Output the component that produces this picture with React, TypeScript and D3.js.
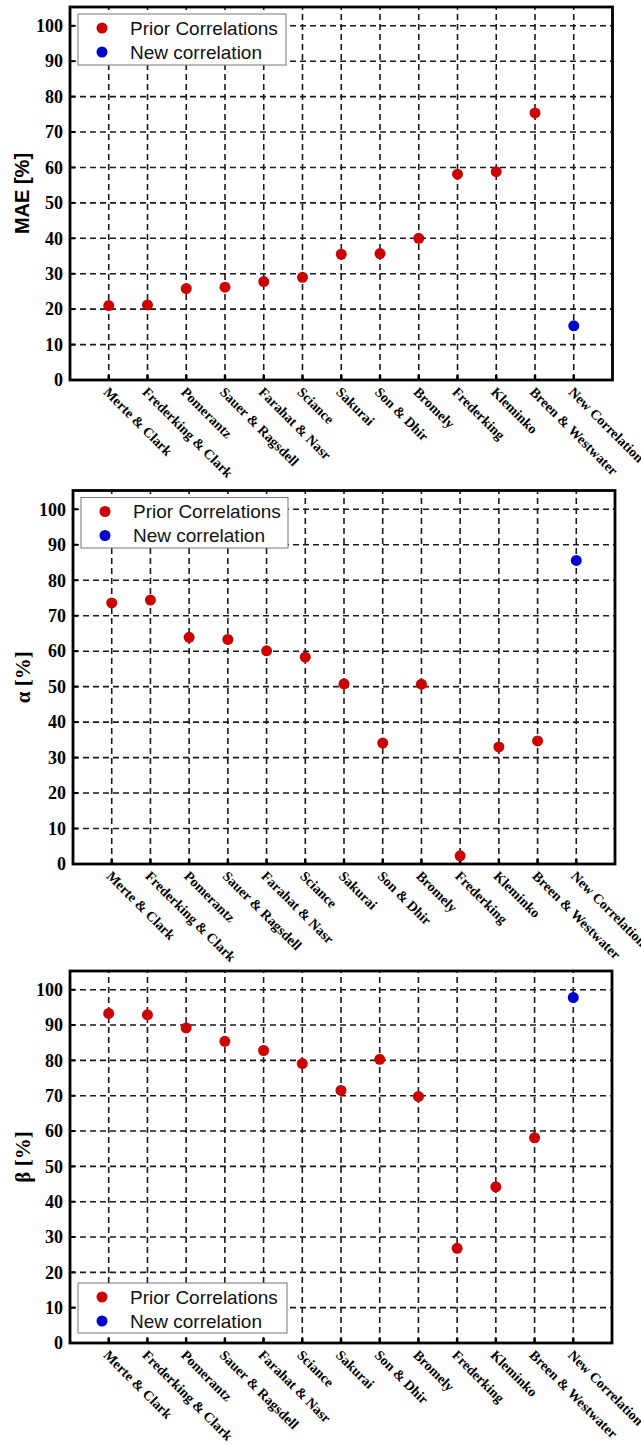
import React, { useEffect, useRef } from 'react';
import * as d3 from 'd3';

const categories = [
  'Merte & Clark', 'Frederking & Clark', 'Pomerantz', 'Sauer & Ragsdell', 'Farahat & Nasr',
  'Sciance', 'Sakurai', 'Son & Dhir', 'Bromely', 'Frederking', 'Kleminko',
  'Breen & Westwater', 'New Correlation',
];
const maeValues = [21.0, 21.2, 25.8, 26.2, 27.8, 29.0, 35.5, 35.7, 40.0, 58.1, 58.8, 75.4, 15.3];
const alphaValues = [73.6, 74.4, 63.9, 63.3, 60.1, 58.3, 50.8, 34.1, 50.7, 2.3, 33.0, 34.7, 85.6];
const betaValues = [93.3, 92.9, 89.2, 85.4, 82.8, 79.1, 71.5, 80.3, 69.8, 26.8, 44.2, 58.1, 97.8];
const yTicks = [0, 10, 20, 30, 40, 50, 60, 70, 80, 90, 100];
const legendLabels = ['Prior Correlations', 'New correlation'];

const RED = '#cc0000';
const BLUE = '#0000cc';

const panels = [
  { title: 'MAE [%]', titleFont: 'Arial, "Liberation Sans", sans-serif', titleSize: 20, titleX: 29,
    values: maeValues, left: 70, right: 612.5, top: 7, bottom: 380, legend: { x: 78, y: 14, w: 208, h: 51 } },
  { title: 'α [%]', titleFont: '"Times New Roman", "Liberation Serif", serif', titleSize: 21, titleX: 30,
    values: alphaValues, left: 73, right: 615, top: 490.5, bottom: 864, legend: { x: 81, y: 497.5, w: 207, h: 50.5 } },
  { title: 'β [%]', titleFont: '"Times New Roman", "Liberation Serif", serif', titleSize: 21, titleX: 30,
    values: betaValues, left: 70, right: 612, top: 971, bottom: 1343, legend: { x: 78, y: 1283, w: 209, h: 50 } },
];

const App = () => {
  const ref = useRef(null);

  useEffect(() => {
    const svg = d3.select(ref.current);
    svg.selectAll('*').remove();

    panels.forEach(p => {
      const x = d3.scalePoint().domain(categories).range([p.left, p.right]).padding(1);
      const y = d3.scaleLinear().domain([0, 105.3]).range([p.bottom, p.top]);
      const g = svg.append('g');

      // dashed grid
      g.selectAll('.hgrid')
        .data(yTicks.filter(t => t > 0))
        .join('line')
        .attr('x1', p.left).attr('x2', p.right)
        .attr('y1', d => y(d)).attr('y2', d => y(d))
        .attr('stroke', '#1a1a1a').attr('stroke-width', 1.6).attr('stroke-dasharray', '6,4');
      g.selectAll('.vgrid')
        .data(categories)
        .join('line')
        .attr('x1', d => x(d)).attr('x2', d => x(d))
        .attr('y1', p.bottom).attr('y2', p.top)
        .attr('stroke', '#1a1a1a').attr('stroke-width', 1.6).attr('stroke-dasharray', '6,4');

      // inward ticks
      g.selectAll('.ytick')
        .data(yTicks)
        .join('line')
        .attr('x1', p.left).attr('x2', p.left + 5)
        .attr('y1', d => y(d)).attr('y2', d => y(d))
        .attr('stroke', '#000').attr('stroke-width', 2);
      g.selectAll('.xtick')
        .data(categories)
        .join('line')
        .attr('x1', d => x(d)).attr('x2', d => x(d))
        .attr('y1', p.bottom).attr('y2', p.bottom - 5)
        .attr('stroke', '#000').attr('stroke-width', 2.5);

      // y tick labels
      g.selectAll('.ylab')
        .data(yTicks)
        .join('text')
        .attr('x', p.left - 7)
        .attr('y', d => y(d))
        .attr('dy', '0.35em')
        .attr('text-anchor', 'end')
        .style('font-family', '"Times New Roman", "Liberation Serif", serif')
        .style('font-weight', 'bold')
        .style('font-size', '18px')
        .text(d => d);

      // x tick labels
      g.selectAll('.xlab')
        .data(categories)
        .join('text')
        .attr('transform', d => `translate(${x(d) - 6},${p.bottom + 13}) rotate(45)`)
        .attr('text-anchor', 'start')
        .style('font-family', '"Times New Roman", "Liberation Serif", serif')
        .style('font-weight', 'bold')
        .style('font-size', '14px')
        .text(d => d);

      // y title
      g.append('text')
        .attr('transform', `translate(${p.titleX},${(p.top + p.bottom) / 2}) rotate(-90)`)
        .attr('text-anchor', 'middle')
        .style('font-family', p.titleFont)
        .style('font-weight', 'bold')
        .style('font-size', `${p.titleSize}px`)
        .text(p.title);

      // points
      g.selectAll('.pt')
        .data(p.values)
        .join('circle')
        .attr('cx', (d, i) => x(categories[i]))
        .attr('cy', d => y(d))
        .attr('r', 5.5)
        .attr('fill', (d, i) => (i === categories.length - 1 ? BLUE : RED));

      // legend
      const lg = g.append('g');
      lg.append('rect')
        .attr('x', p.legend.x).attr('y', p.legend.y)
        .attr('width', p.legend.w).attr('height', p.legend.h)
        .attr('fill', '#fff').attr('stroke', '#777').attr('stroke-width', 1);
      legendLabels.forEach((label, i) => {
        const cy = p.legend.y + 14 + i * 24;
        lg.append('circle')
          .attr('cx', p.legend.x + 24).attr('cy', cy).attr('r', 5.5)
          .attr('fill', i === 0 ? RED : BLUE);
        lg.append('text')
          .attr('x', p.legend.x + 52).attr('y', cy)
          .attr('dy', '0.35em')
          .style('font-family', 'Arial, "Liberation Sans", sans-serif')
          .style('font-size', '19px')
          .attr('fill', '#111')
          .text(label);
      });

      // frame
      g.append('rect')
        .attr('x', p.left).attr('y', p.top)
        .attr('width', p.right - p.left).attr('height', p.bottom - p.top)
        .attr('fill', 'none').attr('stroke', '#000').attr('stroke-width', 2.8);
    });
  }, []);

  return (
    <svg
      ref={ref}
      width={641}
      height={1445}
      style={{ position: 'absolute', left: 0, top: 0, background: '#fff' }}
    />
  );
};

export default App;
